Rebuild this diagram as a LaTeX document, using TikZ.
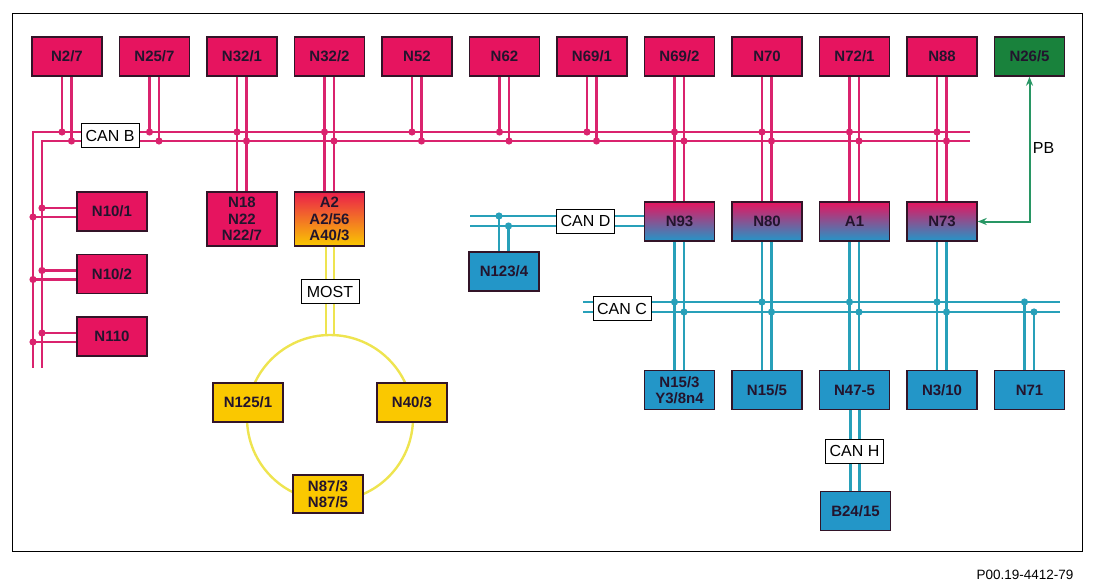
\documentclass[tikz,border=0pt]{standalone}
\usepackage{fontspec}
\setmainfont{Liberation Sans}
\usetikzlibrary{calc,arrows.meta}
\pgfdeclarelayer{bg}
\pgfsetlayers{bg,main}
\definecolor{magbox}{RGB}{230,20,95}
\definecolor{magline}{RGB}{218,35,110}
\definecolor{blubox}{RGB}{35,150,200}
\definecolor{bluline}{RGB}{40,160,185}
\definecolor{grnbox}{RGB}{25,130,60}
\definecolor{grnline}{RGB}{40,150,100}
\definecolor{ylwbox}{RGB}{250,200,0}
\definecolor{ylwline}{RGB}{238,228,80}
\definecolor{redtop}{RGB}{235,30,75}
\definecolor{boxline}{RGB}{50,20,40}
\definecolor{boxtext}{RGB}{35,20,45}
\begin{document}
\begin{tikzpicture}[x=1pt,y=-1pt,
  box/.style={draw=boxline, line width=1.4pt, minimum width=70pt, minimum height=39pt,
    inner sep=0pt, align=center, text=boxtext, font=\bfseries\fontsize{15}{16.5}\selectfont},
  mag/.style={box, fill=magbox},
  blu/.style={box, fill=blubox},
  ylw/.style={box, fill=ylwbox},
  grn/.style={box, fill=grnbox},
  mb/.style={box, top color=magbox, bottom color=blubox},
  ry/.style={box, top color=redtop, bottom color=ylwbox},
  lab/.style={draw=black, line width=1pt, fill=white, inner sep=0pt,
    minimum width=58pt, minimum height=24pt, font=\fontsize{16}{16}\selectfont},
  mline/.style={draw=magline, line width=2.6pt},
  bline/.style={draw=bluline, line width=2.6pt},
  yline/.style={draw=ylwline, line width=2.4pt},
  pbline/.style={draw=grnline, line width=2pt},
  pbtip/.tip={Stealth[length=9pt,width=7pt]},
]
\useasboundingbox (0,0) rectangle (1094,588);
\draw[line width=1pt] (12,14) rectangle (1082,551);

% top row
\node[mag] (n27)  at (67,56.5)    {N2/7};
\node[mag] (n257) at (154.5,56.5) {N25/7};
\node[mag] (n321) at (242,56.5)   {N32/1};
\node[mag] (n322) at (329.5,56.5) {N32/2};
\node[mag] (n52)  at (417,56.5)   {N52};
\node[mag] (n62)  at (504.5,56.5) {N62};
\node[mag] (n691) at (592,56.5)   {N69/1};
\node[mag] (n692) at (679.5,56.5) {N69/2};
\node[mag] (n70)  at (767,56.5)   {N70};
\node[mag] (n721) at (854.5,56.5) {N72/1};
\node[mag] (n88)  at (942,56.5)   {N88};
\node[grn] (n265) at (1029.5,56.5) {N26/5};

% left column
\node[mag] (n101) at (112,211.5) {N10/1};
\node[mag] (n102) at (112,274)   {N10/2};
\node[mag] (n110) at (112,336.5) {N110};

% second row
\node[mag, minimum height=54pt] (n18) at (242,219) {N18\\N22\\N22/7};
\node[ry, minimum height=54pt] (a2) at (329.5,219) {A2\\A2/56\\A40/3};
\node[mb] (n93) at (679.5,221.5) {N93};
\node[mb] (n80) at (767,221.5) {N80};
\node[mb] (a1) at (854.5,221.5) {A1};
\node[mb] (n73) at (942,221.5) {N73};
\node[blu] (n1234) at (504,271.5) {N123/4};

% bottom blue row
\node[blu] (n153) at (679.5,390) {N15/3\\Y3/8n4};
\node[blu] (n155) at (767,390) {N15/5};
\node[blu] (n475) at (854.5,390) {N47-5};
\node[blu] (n310) at (942,390) {N3/10};
\node[blu] (n71) at (1029.5,390) {N71};
\node[blu] (b2415) at (855.5,511) {B24/15};

% MOST ring
\node[ylw] (n1251) at (248,402.5) {N125/1};
\node[ylw] (n403) at (412,402.5) {N40/3};
\node[ylw, minimum height=38pt] (n873) at (328,494) {N87/3\\N87/5};

% bus coordinates
\coordinate (busA) at (33,132);
\coordinate (busB) at (42,141);
\coordinate (busAe) at (970,132);
\coordinate (busBe) at (970,141);
\coordinate (busAb) at (33,368);
\coordinate (busBb) at (42,368);
\coordinate (busC1) at (583,302);
\coordinate (busC2) at (583,312);
\coordinate (busC1e) at (1060,302);
\coordinate (busC2e) at (1060,312);
\coordinate (d1) at (470,216);
\coordinate (d2) at (470,226);
\coordinate (ringc) at (330,418);
\coordinate (ringtop) at (330,336);

\begin{pgfonlayer}{bg}
  % CAN B bus
  \draw[mline] (busAe) -- (busA) -- (busAb);
  \draw[mline] (busBe) -- (busB) -- (busBb);
  \foreach \n in {n27,n257,n52,n62,n691}{
    \draw[mline] ($(\n.south)+(-5,0)$) coordinate (l) -- (l |- busA);
    \draw[mline] ($(\n.south)+(4.5,0)$) coordinate (r) -- (r |- busB);
    \fill[magline] (l |- busA) circle (3.6pt);
    \fill[magline] (r |- busB) circle (3.6pt);
  }
  \foreach \a/\b in {n321/n18,n322/a2,n692/n93,n70/n80,n721/a1,n88/n73}{
    \draw[mline] ($(\a.south)+(-5,0)$) coordinate (l) -- (l |- \b.north);
    \draw[mline] ($(\a.south)+(4.5,0)$) coordinate (r) -- (r |- \b.north);
    \fill[magline] (l |- busA) circle (3.6pt);
    \fill[magline] (r |- busB) circle (3.6pt);
  }
  \foreach \n in {n101,n102,n110}{
    \draw[mline] ($(\n.west)+(0,-3.5)$) coordinate (u) -- (u -| busB);
    \draw[mline] ($(\n.west)+(0,5.5)$) coordinate (v) -- (v -| busA);
    \fill[magline] (u -| busB) circle (3.6pt);
    \fill[magline] (v -| busA) circle (3.6pt);
  }
  % CAN D
  \draw[bline] (d1) -- (d1 -| n93.west);
  \draw[bline] (d2) -- (d2 -| n93.west);
  \draw[bline] ($(n1234.north)+(-5,0)$) coordinate (l) -- (l |- d1);
  \draw[bline] ($(n1234.north)+(4.5,0)$) coordinate (r) -- (r |- d2);
  \fill[bluline] (l |- d1) circle (3.6pt);
  \fill[bluline] (r |- d2) circle (3.6pt);
  % CAN C
  \draw[bline] (busC1) -- (busC1e);
  \draw[bline] (busC2) -- (busC2e);
  \foreach \a/\b in {n93/n153,n80/n155,a1/n475,n73/n310}{
    \draw[bline] ($(\a.south)+(-5,0)$) coordinate (l) -- (l |- \b.north);
    \draw[bline] ($(\a.south)+(4.5,0)$) coordinate (r) -- (r |- \b.north);
    \fill[bluline] (l |- busC1) circle (3.6pt);
    \fill[bluline] (r |- busC2) circle (3.6pt);
  }
  \draw[bline] ($(n71.north)+(-5,0)$) coordinate (l) -- (l |- busC1);
  \draw[bline] ($(n71.north)+(4.5,0)$) coordinate (r) -- (r |- busC2);
  \fill[bluline] (l |- busC1) circle (3.6pt);
  \fill[bluline] (r |- busC2) circle (3.6pt);
  % CAN H
  \draw[bline] ($(n475.south)+(-4,0)$) coordinate (l) -- (l |- b2415.north);
  \draw[bline] ($(n475.south)+(5,0)$) coordinate (r) -- (r |- b2415.north);
  % MOST
  \draw[yline] (ringc) circle (83pt);
  \draw[yline] ($(a2.south)+(-3.5,0)$) coordinate (l) -- (l |- ringtop);
  \draw[yline] ($(a2.south)+(4.5,0)$) coordinate (r) -- (r |- ringtop);
\end{pgfonlayer}

% PB
\coordinate (pbc) at (1029.5,221.5);
\draw[pbline, pbtip-pbtip] (n265.south) -- (pbc) -- (n73.east);
\node[font=\fontsize{16}{16}\selectfont] (pb) at (1043.5,148) {PB};

% labels
\node[lab] (canb) at (110,136) {CAN B};
\node[lab] (cand) at (585.5,221) {CAN D};
\node[lab] (canc) at (622,308.5) {CAN C};
\node[lab] (most) at (330,291.5) {MOST};
\node[lab] (canh) at (854.5,451) {CAN H};

\node[anchor=east, font=\fontsize{13.5}{13.5}\selectfont] (ref) at (1077,575) {P00.19-4412-79};
\end{tikzpicture}
\end{document}
